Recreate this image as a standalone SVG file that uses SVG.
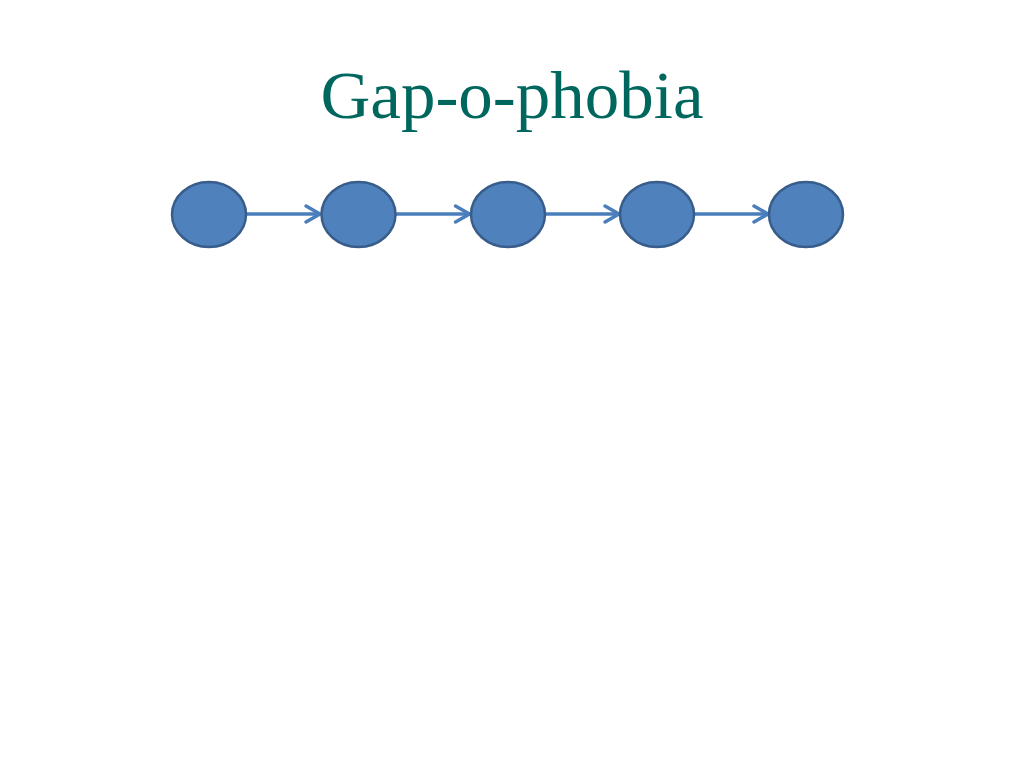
<svg xmlns="http://www.w3.org/2000/svg" width="1024" height="768" viewBox="0 0 1024 768">
<defs>
<style>
.node{fill:#4f81bd;stroke:#385d8a;stroke-width:2.5}
.edge{stroke:#4a7ebb;stroke-width:3.5;fill:none}
.title{font-family:"Liberation Serif",serif;font-size:67px;fill:#00675f}
</style>
<marker id="arr" viewBox="-16 -10 18 20" refX="0" refY="0" markerWidth="18" markerHeight="20" markerUnits="userSpaceOnUse" orient="auto" overflow="visible">
<path d="M-14,-8 L0,0 L-14,8" fill="none" stroke="#4a7ebb" stroke-width="3.5" stroke-linejoin="miter" stroke-linecap="round"/>
</marker>
</defs>
<rect width="1024" height="768" fill="#ffffff"/>
<text class="title" x="512" y="118" text-anchor="middle" textLength="383" lengthAdjust="spacingAndGlyphs">Gap-o-phobia</text>
<g id="connectors">
<line class="edge" x1="246" y1="214" x2="320" y2="214" marker-end="url(#arr)"/>
<line class="edge" x1="395.5" y1="214" x2="469.5" y2="214" marker-end="url(#arr)"/>
<line class="edge" x1="545" y1="214" x2="619" y2="214" marker-end="url(#arr)"/>
<line class="edge" x1="694" y1="214" x2="768" y2="214" marker-end="url(#arr)"/>
</g>
<g id="node1"><ellipse class="node" cx="209" cy="214.5" rx="37" ry="32.5"/></g>
<g id="node2"><ellipse class="node" cx="358.5" cy="214.5" rx="37" ry="32.5"/></g>
<g id="node3"><ellipse class="node" cx="508" cy="214.5" rx="37" ry="32.5"/></g>
<g id="node4"><ellipse class="node" cx="657" cy="214.5" rx="37" ry="32.5"/></g>
<g id="node5"><ellipse class="node" cx="806" cy="214.5" rx="37" ry="32.5"/></g>
</svg>
